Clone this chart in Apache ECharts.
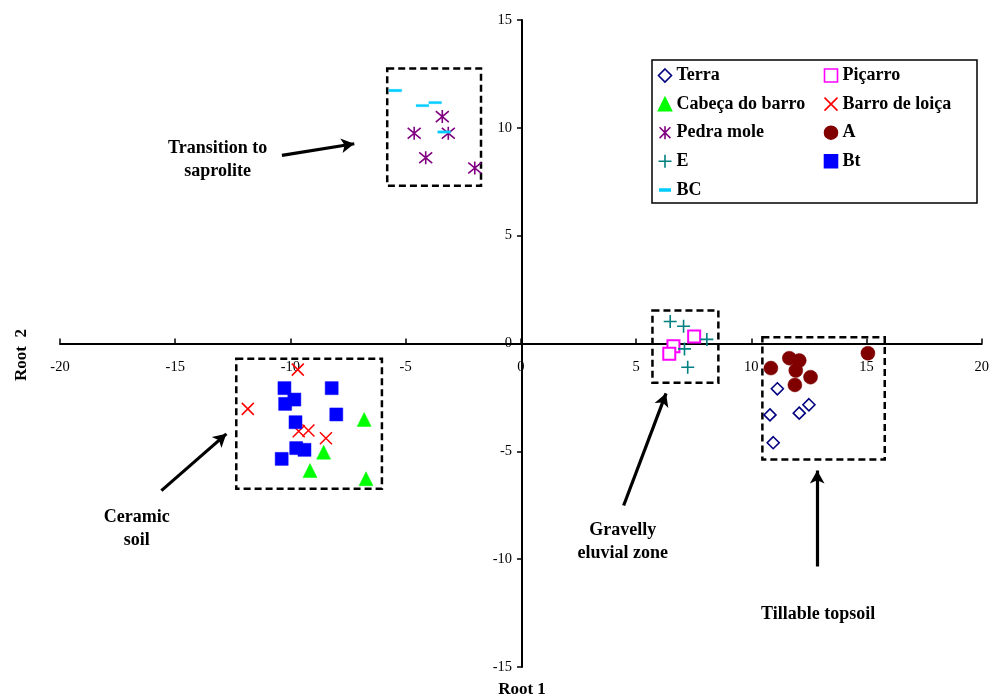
<!DOCTYPE html>
<html>
<head>
<meta charset="utf-8">
<script src="https://cdn.jsdelivr.net/npm/echarts@6/dist/echarts.min.js"></script>
<style>
html,body{margin:0;padding:0;background:#fff;}
#chart{width:992px;height:700px;}
</style>
</head>
<body>
<div id="chart"></div>
<script>
// ---- data ----
var terraX = [11.13, 12.50, 12.08, 10.81, 10.95];
var terraY = [-2.10, -2.84, -3.23, -3.31, -4.60];
var picarroX = [7.52, 6.62, 6.44];
var picarroY = [0.32, -0.13, -0.48];
var cabecaX = [-6.80, -8.56, -9.15, -6.72];
var cabecaY = [-3.52, -5.04, -5.89, -6.27];
var barroX = [-9.68, -11.85, -9.64, -9.22, -8.46];
var barroY = [-1.21, -3.03, -4.07, -4.03, -4.39];
var pedraX = [-3.41, -4.63, -3.15, -4.13, -2.00];
var pedraY = [10.52, 9.75, 9.75, 8.61, 8.14];
var aX = [10.85, 11.65, 12.08, 11.93, 12.57, 11.89, 15.06];
var aY = [-1.14, -0.68, -0.79, -1.25, -1.56, -1.92, -0.45];
var eX = [6.48, 7.06, 8.07, 7.10, 7.24];
var eY = [1.02, 0.80, 0.19, -0.25, -1.10];
var btX = [-10.26, -8.21, -9.83, -10.23, -8.01, -9.78, -9.75, -9.39, -10.38];
var btY = [-2.07, -2.07, -2.60, -2.80, -3.29, -3.65, -4.85, -4.93, -5.35];
var bcX = [-5.45, -4.27, -3.72, -3.33];
var bcY = [11.73, 11.03, 11.17, 9.81];

var xTicks = [-20, -15, -10, -5, 0, 5, 10, 15, 20];
var yTicks = [-15, -10, -5, 0, 5, 10, 15];

// annotation boxes [x1, y1, x2, y2]
var boxes = [
  [-5.80, 12.75, -1.73, 7.32],
  [-12.35, -0.71, -6.03, -6.74],
  [5.71, 1.53, 8.57, -1.82],
  [10.48, 0.29, 15.79, -5.38]
];
// arrows [fromX, fromY, toX, toY]
var arrows = [
  [-10.37, 8.72, -7.23, 9.26],
  [-15.60, -6.82, -12.78, -4.19],
  [4.46, -7.51, 6.30, -2.31],
  [12.86, -10.34, 12.86, -5.89]
];
// annotation texts
var notes = ['Transition to\nsaprolite', 'Ceramic\nsoil', 'Gravelly\neluvial zone', 'Tillable topsoil'];
var noteX = [-13.16, -16.67, 4.42, 12.90];
var noteY = [8.53, -8.58, -9.18, -12.56];

function pts(xs, ys) { return xs.map(function (x, i) { return [x, ys[i]]; }); }

var FONT = '"Liberation Serif", "Times New Roman", serif';
var PATH_X = 'path://M0,0L10,10M10,0L0,10';
var PATH_PLUS = 'path://M5,0L5,10M0,5L10,5';
var PATH_STAR = 'path://M0,0L10,10M10,0L0,10M5,-1L5,11';
var PATH_DASH = 'path://M0,0ZM20,20ZM2,8.5L18,8.5L18,11.5L2,11.5Z';

function sc(name, data, symbol, size, fill, stroke, bw) {
  return {
    name: name, type: 'scatter', data: data, symbol: symbol, symbolSize: size,
    itemStyle: { color: fill, borderColor: stroke, borderWidth: bw, opacity: 1 },
    emphasis: { disabled: true }, z: 3
  };
}

var series = [
  sc('Terra', pts(terraX, terraY), 'diamond', 12, '#ffffff', '#000080', 1.6),
  sc('Piçarro', pts(picarroX, picarroY), 'rect', 12, '#ffffff', '#ff00ff', 2),
  sc('Cabeça do barro', pts(cabecaX, cabecaY), 'triangle', 14, '#00ff00', '#00ff00', 0.5),
  sc('Barro de loiça', pts(barroX, barroY), PATH_X, 12, 'none', '#ff0000', 1.5),
  sc('Pedra mole', pts(pedraX, pedraY), PATH_STAR, 13, 'none', '#800080', 1.6),
  sc('A', pts(aX, aY), 'circle', 14, '#800000', '#800000', 0.5),
  sc('E', pts(eX, eY), PATH_PLUS, 13, 'none', '#008080', 1.6),
  sc('Bt', pts(btX, btY), 'rect', 13, '#0000ff', '#0000ff', 0.5),
  sc('BC', pts(bcX, bcY), PATH_DASH, 16, '#00ccff', '#00ccff', 0.3)
];

series.push({
  name: 'annotations', type: 'scatter', data: [], silent: true, z: 2,
  markArea: {
    silent: true,
    itemStyle: { color: 'rgba(0,0,0,0)', borderColor: '#000', borderWidth: 2.5, borderType: [7, 4] },
    label: { show: false },
    data: boxes.map(function (b) { return [{ coord: [b[0], b[1]] }, { coord: [b[2], b[3]] }]; })
  },
  markLine: {
    silent: true, animation: false,
    symbol: ['none', 'arrow'], symbolSize: [11, 13],
    lineStyle: { color: '#000', width: 3.2, type: 'solid' },
    label: { show: false },
    data: arrows.map(function (a) { return [{ coord: [a[0], a[1]] }, { coord: [a[2], a[3]] }]; })
  },
  markPoint: {
    silent: true, symbol: 'circle', symbolSize: 0,
    label: {
      show: true, position: 'inside', color: '#000', fontFamily: FONT, fontWeight: 'bold',
      fontSize: 18, lineHeight: 23, align: 'center', verticalAlign: 'middle',
      formatter: function (p) { return p.name; }
    },
    data: notes.map(function (t, i) { return { name: t, coord: [noteX[i], noteY[i]] }; })
  }
});

var legendText = { fontFamily: FONT, fontWeight: 'bold', fontSize: 18, lineHeight: 20, color: '#000' };

var GRID = { left: 60, right: 8, top: 20, bottom: 33 };
// axes cross at the origin: shift each axis from the grid edge to the zero line
var plotW = 992 - GRID.left - GRID.right, plotH = 700 - GRID.top - GRID.bottom;
var xAxisShift = -plotH * (0 - (-15)) / (15 - (-15));
var yAxisShift = -plotW * (0 - (-20)) / (20 - (-20));

var option = {
  animation: false,
  backgroundColor: '#fff',
  grid: { left: GRID.left, right: GRID.right, top: GRID.top, bottom: GRID.bottom, containLabel: false },
  xAxis: {
    type: 'value', min: -20, max: 20, interval: 5, position: 'bottom', offset: xAxisShift,
    axisLine: { onZero: false, lineStyle: { color: '#000', width: 2 } },
    axisTick: { show: true, inside: true, length: 5, lineStyle: { color: '#000', width: 1.5 } },
    axisLabel: {
      color: '#000', fontFamily: FONT, fontSize: 14.5, margin: 16,
      formatter: function (v) { return xTicks.indexOf(v) >= 0 ? String(v) : ''; }
    },
    splitLine: { show: false }
  },
  yAxis: {
    type: 'value', min: -15, max: 15, interval: 5, position: 'left', offset: yAxisShift,
    axisLine: { onZero: false, lineStyle: { color: '#000', width: 2 } },
    axisTick: { show: true, inside: false, length: 5, lineStyle: { color: '#000', width: 1.5 } },
    axisLabel: {
      color: '#000', fontFamily: FONT, fontSize: 14.5, margin: 10,
      formatter: function (v) { return yTicks.indexOf(v) >= 0 ? String(v) : ''; }
    },
    splitLine: { show: false }
  },
  legend: [
    {
      orient: 'vertical', left: 656, top: 65.5, padding: 0, itemWidth: 13, itemHeight: 13, itemGap: 8.6,
      data: ['Terra', 'Cabeça do barro', 'Pedra mole', 'E', 'BC'],
      textStyle: legendText, selectedMode: false, itemStyle: { borderWidth: 1.6 }
    },
    {
      orient: 'vertical', left: 822, top: 65.5, padding: 0, itemWidth: 13, itemHeight: 13, itemGap: 8.6,
      data: ['Piçarro', 'Barro de loiça', 'A', 'Bt'],
      textStyle: legendText, selectedMode: false, itemStyle: { borderWidth: 1.6 }
    }
  ],
  graphic: [
    { type: 'rect', shape: { x: 652, y: 60, width: 325, height: 143 },
      style: { fill: 'rgba(0,0,0,0)', stroke: '#000', lineWidth: 1.5 }, z: 1 },
    { type: 'text', x: 522, y: 690, style: { text: 'Root 1', font: 'bold 17px ' + FONT, fill: '#000', textAlign: 'center', textVerticalAlign: 'middle' } },
    { type: 'text', x: 22, y: 355, rotation: Math.PI / 2, style: { text: 'Root  2', font: 'bold 17px ' + FONT, fill: '#000', textAlign: 'center', textVerticalAlign: 'middle' } }
  ],
  series: series
};

var chart = echarts.init(document.getElementById('chart'), null, { renderer: 'canvas' });
chart.setOption(option);
</script>
</body>
</html>
